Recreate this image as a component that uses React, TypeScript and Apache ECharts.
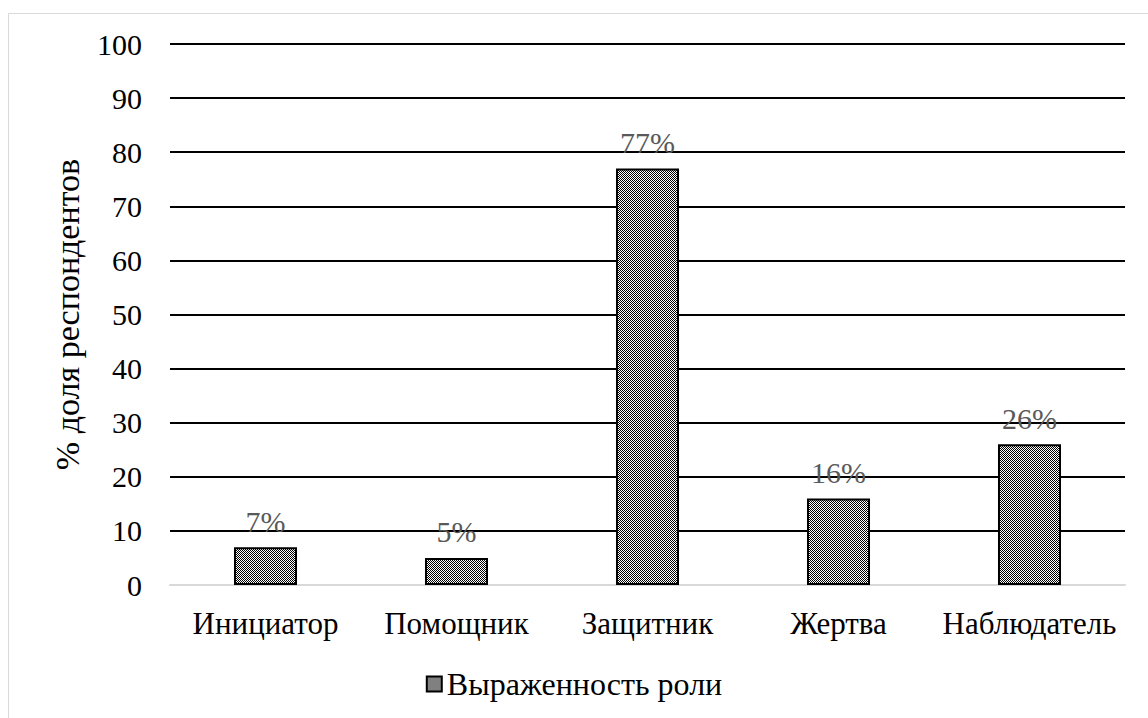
import React, { useEffect, useRef } from "react";
import * as echarts from "echarts";

const categories = ["Инициатор", "Помощник", "Защитник", "Жертва", "Наблюдатель"];
const values = [7, 5, 77, 16, 26];
const seriesName = "Выраженность роли";
const yAxisTitle = "% доля респондентов";

function makePattern(): string {
  const c = document.createElement("canvas");
  c.width = 4;
  c.height = 4;
  const ctx = c.getContext("2d")!;
  ctx.fillStyle = "#ffffff";
  ctx.fillRect(0, 0, 4, 4);
  ctx.fillStyle = "#000000";
  for (let y = 0; y < 4; y++) {
    for (let x = 0; x < 4; x++) {
      if ((x + y) % 2 === 0) ctx.fillRect(x, y, 1, 1);
    }
  }
  return c.toDataURL();
}

const FONT = "Times New Roman, Liberation Serif, serif";

export default function App() {
  const ref = useRef<HTMLDivElement>(null);
  useEffect(() => {
    if (!ref.current) return;
    const chart = echarts.init(ref.current, null, { renderer: "svg" });
    const pattern = { image: makePattern(), repeat: "repeat" } as any;
    chart.setOption({
      animation: false,
      backgroundColor: "#ffffff",
      textStyle: { fontFamily: FONT },
      graphic: [
        {
          type: "rect",
          shape: { x: 8.5, y: 13.5, width: 1160, height: 720 },
          style: { fill: "none", stroke: "#d9d9d9", lineWidth: 1 },
          silent: true,
        },
      ],
      grid: { left: 170, right: 23, top: 44, bottom: 133 },
      legend: {
        bottom: 13,
        left: "center",
        icon: "rect",
        itemWidth: 15,
        itemHeight: 15,
        itemGap: 6,
        textStyle: { fontSize: 32, color: "#000", fontFamily: FONT },
        data: [seriesName],
      },
      xAxis: {
        type: "category",
        data: categories,
        axisLine: { show: true, lineStyle: { color: "#d9d9d9", width: 2 } },
        axisTick: { show: false },
        axisLabel: {
          fontSize: 31,
          color: "#000",
          margin: 23,
          interval: 0,
          hideOverlap: false,
          fontFamily: FONT,
        },
      },
      yAxis: {
        type: "value",
        min: 0,
        max: 100,
        interval: 10,
        name: yAxisTitle,
        nameLocation: "middle",
        nameGap: 86,
        nameRotate: 90,
        nameTextStyle: { fontSize: 34, color: "#000", fontFamily: FONT },
        axisLine: { show: false },
        axisTick: { show: false },
        axisLabel: { fontSize: 30, color: "#000", margin: 28, fontFamily: FONT },
        splitLine: { lineStyle: { color: "#000", width: 2 } },
      },
      series: [
        {
          name: seriesName,
          type: "bar",
          data: values,
          barWidth: "33%",
          itemStyle: { color: pattern, borderColor: "#000", borderWidth: 2 },
          label: {
            show: true,
            position: "top",
            distance: 11,
            formatter: "{c}%",
            fontSize: 30,
            color: "#595959",
            fontFamily: FONT,
          },
        },
      ],
    });
    return () => chart.dispose();
  }, []);
  return (
    <div
      ref={ref}
      style={{ position: "absolute", left: 0, top: 0, width: 1148, height: 718 }}
    />
  );
}
